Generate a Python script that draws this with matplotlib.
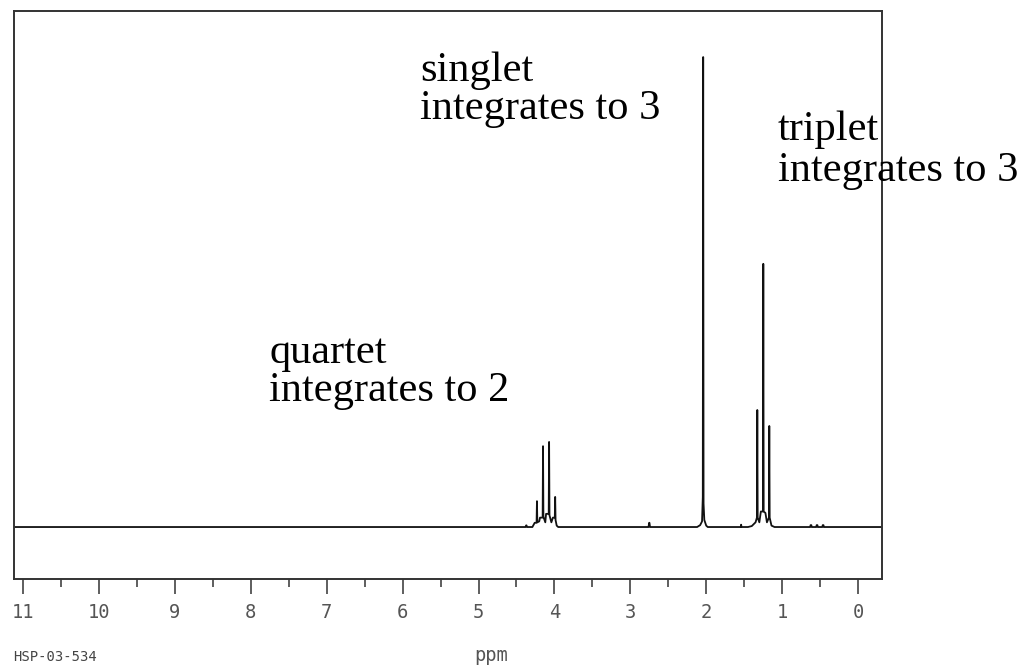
import matplotlib
matplotlib.use('Agg')
from matplotlib import pyplot as plt
from matplotlib.ticker import MultipleLocator

# spectrum: chemical shift (ppm) and intensity (singlet = 100)
shift = [11.12, 4.38, 4.372, 4.368, 4.36,
         4.29, 4.26, 4.235, 4.23, 4.225, 4.20, 4.19, 4.155, 4.15, 4.145,
         4.12, 4.11, 4.075, 4.07, 4.065, 4.04, 4.02, 3.995, 3.99, 3.985, 3.97, 3.95,
         2.76, 2.752, 2.748, 2.74,
         2.12, 2.08, 2.055, 2.045, 2.04, 2.035, 2.025, 2.00, 1.98,
         1.60, 1.545, 1.54, 1.535, 1.45, 1.40, 1.35, 1.332, 1.327, 1.322,
         1.30, 1.28, 1.253, 1.248, 1.243, 1.22, 1.20, 1.174, 1.169, 1.164, 1.14, 1.10,
         0.63, 0.625, 0.615, 0.61, 0.55, 0.545, 0.535, 0.53, 0.47, 0.465, 0.455, 0.45,
         -0.32]
intensity = [0, 0, 0.35, 0.35, 0,
             0, 0.9, 0.9, 5.5, 1.0, 1.2, 2.0, 2.0, 17.2, 2.2,
             1.0, 2.8, 2.8, 18.1, 2.5, 1.0, 2.0, 2.0, 6.4, 1.5, 0.3, 0,
             0, 0.9, 0.9, 0,
             0, 0.4, 1.2, 6.4, 100, 5.0, 1.5, 0.3, 0,
             0, 0, 0.5, 0, 0, 0.2, 1.0, 2.0, 24.9, 2.0,
             1.0, 3.3, 3.3, 56, 3.3, 3.0, 1.0, 2.0, 21.5, 2.0, 0.3, 0,
             0, 0.4, 0.4, 0, 0, 0.4, 0.4, 0, 0, 0.4, 0.4, 0,
             0]

major_ticks = list(range(0, 12))
tick_labels = [str(t) for t in major_ticks]

notes = [
    (5.77, 94.9, 86.8, 'singlet', 'integrates to 3'),
    (1.054, 82.4, 73.6, 'triplet', 'integrates to 3'),
    (7.76, 34.9, 26.8, 'quartet', 'integrates to 2'),
]

fig = plt.figure(figsize=(10.2, 6.67), dpi=100)
ax = fig.add_axes([14/1020, 1 - 579/667, 868/1020, 568/667])

ax.plot(shift, intensity, color='#111111', linewidth=1.3)
ax.set_xlim(11.12, -0.316)
ax.set_ylim(-11.06, 109.8)

for s in ax.spines.values():
    s.set_color('#333333')
    s.set_linewidth(1.4)

ax.set_yticks([])
ax.set_xticks(major_ticks)
ax.set_xticklabels(tick_labels, family='DejaVu Sans Mono', fontsize=13.5, color='#555555')
ax.xaxis.set_minor_locator(MultipleLocator(0.5))
ax.tick_params(axis='x', which='major', direction='out', length=11, width=1.1,
               color='#333333', pad=6)
ax.tick_params(axis='x', which='minor', direction='out', length=6, width=1.1,
               color='#333333')

for x, y1, y2, t1, t2 in notes:
    ax.text(x, y1, t1, family='Liberation Serif', fontsize=30.5, ha='left', va='baseline',
            clip_on=False)
    ax.text(x, y2, t2, family='Liberation Serif', fontsize=30.5, ha='left', va='baseline',
            clip_on=False)

fig.text(491/1020, 1 - 661/667, 'ppm', family='DejaVu Sans Mono', fontsize=13.5,
         color='#555555', ha='center', va='baseline')
fig.text(13/1020, 1 - 661/667, 'HSP-03-534', family='DejaVu Sans Mono', fontsize=10,
         color='#444444', ha='left', va='baseline')

fig.savefig('out.png', dpi=100)
plt.close()
